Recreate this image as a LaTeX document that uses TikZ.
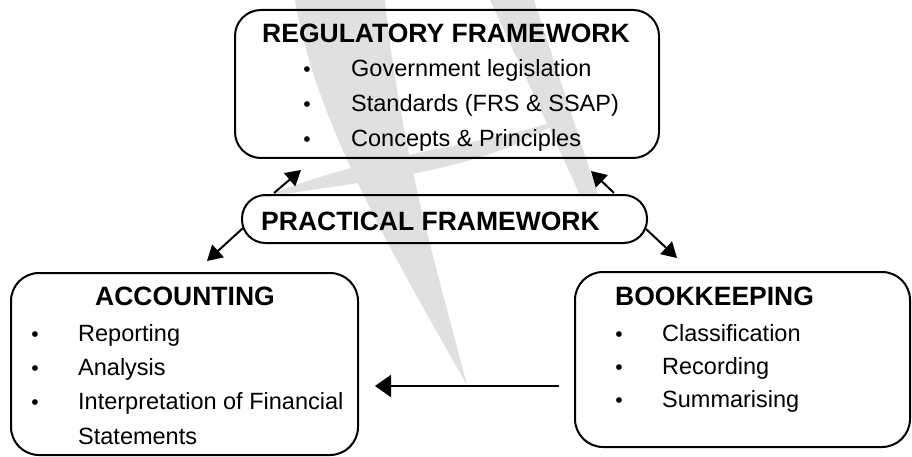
\documentclass[tikz,border=0pt]{standalone}
\usepackage{fontspec}
\setmainfont{Liberation Sans}
\usetikzlibrary{arrows.meta}
\begin{document}
\begin{tikzpicture}[x=1pt,y=-1pt,
  boxst/.style={draw=black, line width=2pt, inner sep=0pt, rounded corners=#1},
  ttl/.style={anchor=base west, inner sep=0pt, font=\fontsize{26.5}{30}\selectfont\bfseries},
  itm/.style={anchor=base west, inner sep=0pt, font=\fontsize{23.5}{27}\selectfont},
  bul/.style={anchor=base, inner sep=0pt, font=\fontsize{21}{27}\selectfont},
  arr/.style={line width=2pt, -{Triangle[length=15pt,width=17pt]}},
  harr/.style={line width=2pt, -{Triangle[length=16pt,width=22pt]}},
  wm/.style={fill=black!12, draw=none}]
\useasboundingbox (0,0) rectangle (912,457);
% watermark
\fill[wm] (295,0) .. controls (315,120) and (390,250) .. (467,385) .. controls (440,280) and (400,150) .. (385,0) -- cycle;
\fill[wm] (262,198) .. controls (360,180) and (480,175) .. (565,118) .. controls (480,148) and (370,152) .. (262,198) -- cycle;
\fill[wm] (490,0) -- (534,0) -- (598,195) -- (580,195) -- cycle;
% boxes
\node[boxst=26pt, minimum width=424pt, minimum height=148pt] (rf) at (447,84) {};
\node[boxst=23.5pt, minimum width=405pt, minimum height=48pt] (pf) at (444.5,219) {};
\node[boxst=28pt, minimum width=347pt, minimum height=182pt] (acc) at (184.5,364) {};
\node[boxst=28pt, minimum width=335pt, minimum height=175pt] (bk) at (742.5,359.5) {};
% regulatory text
\node[ttl] (rft) at (262,43) {REGULATORY FRAMEWORK};
\node[bul] (rb1) at (307,77) {•};
\node[bul] (rb2) at (307,112) {•};
\node[bul] (rb3) at (307,147) {•};
\node[itm] (ri1) at (351,77) {Government legislation};
\node[itm] (ri2) at (351,112) {Standards (FRS \& SSAP)};
\node[itm] (ri3) at (351,147) {Concepts \& Principles};
% practical
\node[ttl] (pft) at (261,230) {PRACTICAL FRAMEWORK};
% accounting
\node[ttl] (acct) at (95,305) {ACCOUNTING};
\node[bul] (ab1) at (35,341) {•};
\node[bul] (ab2) at (35,375) {•};
\node[bul] (ab3) at (35,409) {•};
\node[itm] (ai1) at (78,341) {Reporting};
\node[itm] (ai2) at (78,375) {Analysis};
\node[itm] (ai3) at (78,409) {Interpretation of Financial};
\node[itm] (ai4) at (78,444) {Statements};
% bookkeeping
\node[ttl] (bkt) at (615,305) {BOOKKEEPING};
\node[bul] (bb1) at (619,341) {•};
\node[bul] (bb2) at (619,374) {•};
\node[bul] (bb3) at (619,407) {•};
\node[itm] (bi1) at (662,341) {Classification};
\node[itm] (bi2) at (662,374) {Recording};
\node[itm] (bi3) at (662,407) {Summarising};
% arrows
\draw[arr] ([xshift=33pt,yshift=1pt]pf.north west) -- ([xshift=67pt,yshift=-11pt]rf.south west);
\draw[arr] ([xshift=-34pt,yshift=1pt]pf.north east) -- ([xshift=-69pt,yshift=-12pt]rf.south east);
\draw[arr] ([xshift=2pt,yshift=-9pt]pf.west) -- ([xshift=197pt,yshift=11pt]acc.north west);
\draw[arr] ([xshift=-2pt,yshift=-10pt]pf.east) -- ([xshift=103pt,yshift=13pt]bk.north west);
\draw[harr] ([xshift=-15pt,yshift=-26.5pt]bk.west) -- ([xshift=16pt,yshift=-22pt]acc.east);
\end{tikzpicture}
\end{document}
